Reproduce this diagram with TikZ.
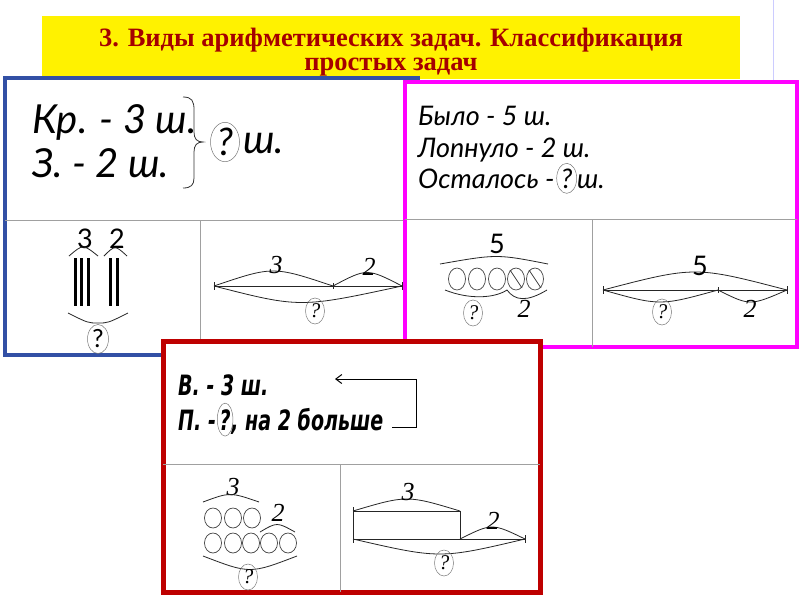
\documentclass[tikz,border=0pt]{standalone}
\usepackage{fontspec}
\setmainfont{Liberation Serif}
\newfontfamily\gothic{Lato}
\newfontfamily\heavy{DejaVu Sans}
\usetikzlibrary{shapes.geometric,arrows.meta}
\definecolor{bluebox}{RGB}{50,80,165}
\definecolor{magbox}{RGB}{255,0,255}
\definecolor{redbox}{RGB}{190,0,0}
\definecolor{titlered}{RGB}{165,0,0}
\definecolor{divgray}{RGB}{160,160,160}
\definecolor{qgray}{RGB}{120,120,120}
\begin{document}
\begin{tikzpicture}[x=1pt,y=-1pt,
  divider/.style={draw=divgray,line width=0.8pt},
  dline/.style={draw=black!85,line width=0.8pt},
  bar/.style={draw=black,line width=3pt},
  circ/.style={draw=black!75,line width=0.7pt},
  qm/.style={ellipse,draw=qgray,line width=0.5pt,inner sep=0pt,minimum width=19pt,minimum height=26pt,font=\fontsize{21}{21}\selectfont\itshape},
  qmsans/.style={ellipse,draw=qgray,line width=0.5pt,inner sep=0pt,minimum width=21pt,minimum height=29pt,font=\gothic\fontsize{25}{25}\selectfont},
  qmbig/.style={ellipse,draw=qgray,line width=0.5pt,inner sep=0pt,minimum width=29pt,minimum height=38pt,font=\gothic\itshape\fontsize{38}{38}\selectfont},
  numlab/.style={inner sep=0pt,font=\fontsize{26}{26}\selectfont\itshape},
  snum/.style={inner sep=0pt,font=\gothic\fontsize{27}{27}\selectfont},
  bigtxt/.style={inner sep=0pt,anchor=base west,font=\gothic\itshape\fontsize{40}{40}\selectfont},
  midtxt/.style={inner sep=0pt,anchor=base west,font=\gothic\itshape\fontsize{27}{27}\selectfont},
  redtxt/.style={inner sep=0pt,anchor=base west,font=\heavy\bfseries\itshape\fontsize{28}{28}\selectfont},
  titletxt/.style={inner sep=0pt,align=center,text=titlered,font=\bfseries\fontsize{26.5}{24}\selectfont}
]
\useasboundingbox (0,0) rectangle (800,600);
\fill[white] (0,0) rectangle (800,600);
\draw[blue!20,line width=1pt] (773,0) -- (773,82);
% title
\fill[yellow] (42,16) rectangle (740,79);
\node[titletxt] (title) at (391,52) {3. Виды арифметических задач. Классификация\\простых задач};

% ---------- blue box ----------
\draw[bluebox,line width=4pt,fill=white] (5,78) rectangle (418,355);
\draw[divider] (5,220) -- (418,220);
\draw[divider] (200,220) -- (200,355);
\node[bigtxt] (kr) at (32,133) {Кр. - 3 ш.};
\node[bigtxt] (zl) at (32,177) {З. - 2 ш.};
\draw[black!80,line width=0.8pt] (183,97) .. controls (192,97) and (194,101) .. (194,110) -- (194,132)
  .. controls (194,139) and (197,142) .. (203,142) .. controls (197,142) and (194,145) .. (194,152)
  -- (194,178) .. controls (194,185) and (191,188) .. (183,188);
\node[qmbig] (q1) at (225,142) {?};
\node[bigtxt] (sh1) at (243,153) {ш.};
% blue bottom left
\node[snum] (n3a) at (85,239) {3};
\node[snum] (n2a) at (117,239) {2};
\draw[dline] (69,256) .. controls (83,244) .. (98,256);
\draw[dline] (104,256) .. controls (115,245) .. (127,256);
\foreach \x in {75,81.5,88,110.5,117} \draw[bar] (\x,258) -- (\x,306);
\draw[dline] (68,313) .. controls (88,323) .. (98,323) .. controls (108,323) .. (128,313);
\node[qmsans] (q2) at (98,339) {?};
% blue bottom middle
\draw[dline] (214,286) -- (402,286);
\draw[dline] (214,282) -- (214,290);
\draw[dline] (333,283) -- (333,289);
\draw[dline] (402,282) -- (402,290);
\draw[dline] (214,286) .. controls (273,266) .. (333,286);
\draw[dline] (333,286) .. controls (367,268) .. (402,286);
\draw[dline] (214,286) .. controls (300,308) .. (402,286);
\node[numlab] (n3b) at (276,265) {3};
\node[numlab] (n2b) at (369,267) {2};
\node[qm] (q3) at (315,311) {?};

% ---------- magenta box ----------
\draw[magbox,line width=4pt,fill=white] (405,82) rectangle (797,347);
\draw[divider] (405,219) -- (797,219);
\draw[divider] (592,219) -- (592,347);
\node[midtxt] (b1) at (418,125) {Было - 5 ш.};
\node[midtxt] (b2) at (418,157) {Лопнуло - 2 ш.};
\node[midtxt] (b3) at (418,188) {Осталось -};
\node[ellipse,draw=qgray,line width=0.5pt,inner sep=0pt,minimum width=20pt,minimum height=30pt,
  font=\gothic\itshape\fontsize{27}{27}\selectfont,anchor=base] (q4) at ([xshift=12pt]b3.base east) {?};
\node[midtxt] (b4) at (q4.east |- b3.base) {ш.};
% magenta bottom left
\node[snum] (m5a) at (497,244) {5};
\draw[dline] (440,264) .. controls (497,254) .. (548,264);
\foreach \x in {457,477,497,516,535} \draw[circ] (\x,279) ellipse [x radius=8.5,y radius=11];
\draw[circ] (510,270) -- (522,288);
\draw[circ] (529,270) -- (541,288);
\draw[dline] (445,290) .. controls (470,300) and (495,298) .. (507,290);
\draw[dline] (507,290) .. controls (515,301) and (527,302) .. (547,290);
\node[qm] (q5) at (473,313) {?};
\node[numlab] (m2a) at (524,309) {2};
% magenta bottom right
\draw[dline] (603,290) -- (787,290);
\draw[dline] (603,286) -- (603,294);
\draw[dline] (718,287) -- (718,293);
\draw[dline] (787,286) -- (787,294);
\draw[dline] (603,290) .. controls (695,266) .. (787,290);
\draw[dline] (603,290) .. controls (660,306) .. (718,290);
\draw[dline] (718,290) .. controls (750,306) .. (787,290);
\node[snum] (m5b) at (700,266) {5};
\node[qm] (q6) at (662,312) {?};
\node[numlab] (m2b) at (750,309) {2};

% ---------- red box ----------
\draw[redbox,line width=5pt,fill=white] (163,341) rectangle (540,592);
\draw[divider] (163,464) -- (540,464);
\draw[divider] (340,464) -- (340,592);
\node[redtxt] (v1) at (178,395) {\scalebox{0.68}[1]{В. - 3 ш.}};
\node[redtxt] (p1) at (178,430) {\scalebox{0.68}[1]{П. -}};
\node[ellipse,draw=qgray,line width=0.5pt,inner sep=0pt,minimum width=15pt,minimum height=33pt,
  font=\heavy\bfseries\itshape\fontsize{28}{28}\selectfont,anchor=base] (q7) at ([xshift=9pt]p1.base east) {\scalebox{0.68}[1]{?}};
\node[redtxt] (p2) at ([xshift=-2pt]q7.east |- p1.base) {\scalebox{0.68}[1]{, на 2 больше}};
\coordinate (a1) at (392,427);
\coordinate (a2) at (416,427);
\coordinate (a3) at (416,379);
\coordinate (a4) at (335,379);
\draw[black,line width=1pt,-{Straight Barb[length=6pt,width=9pt]}] (a1) -- (a2) -- (a3) -- (a4);
% red bottom left
\node[numlab] (r3a) at (233,487) {3};
\draw[dline] (203,502) .. controls (230,492) .. (259,502);
\foreach \x in {213,233,252} \draw[circ] (\x,518) ellipse [x radius=8.5,y radius=10];
\node[numlab] (r2a) at (278,513) {2};
\draw[dline] (260,532) .. controls (277,522) .. (295,532);
\foreach \x in {213,233,251,269,288} \draw[circ] (\x,543) ellipse [x radius=8.5,y radius=10];
\draw[dline] (203,556) .. controls (250,574) .. (297,556);
\node[qm] (q8) at (248,577) {?};
% red bottom right
\draw[dline] (353,511) rectangle (460,539);
\draw[dline] (460,539) -- (525,539);
\draw[dline] (353,507) -- (353,543);
\draw[dline] (525,535) -- (525,543);
\draw[dline] (353,511) .. controls (407,495) .. (460,511);
\draw[dline] (460,539) .. controls (492,523) .. (525,539);
\draw[dline] (353,539) .. controls (440,559) .. (525,539);
\node[numlab] (r3b) at (408,492) {3};
\node[numlab] (r2b) at (493,521) {2};
\node[qm] (q9) at (444,563) {?};
\end{tikzpicture}
\end{document}
